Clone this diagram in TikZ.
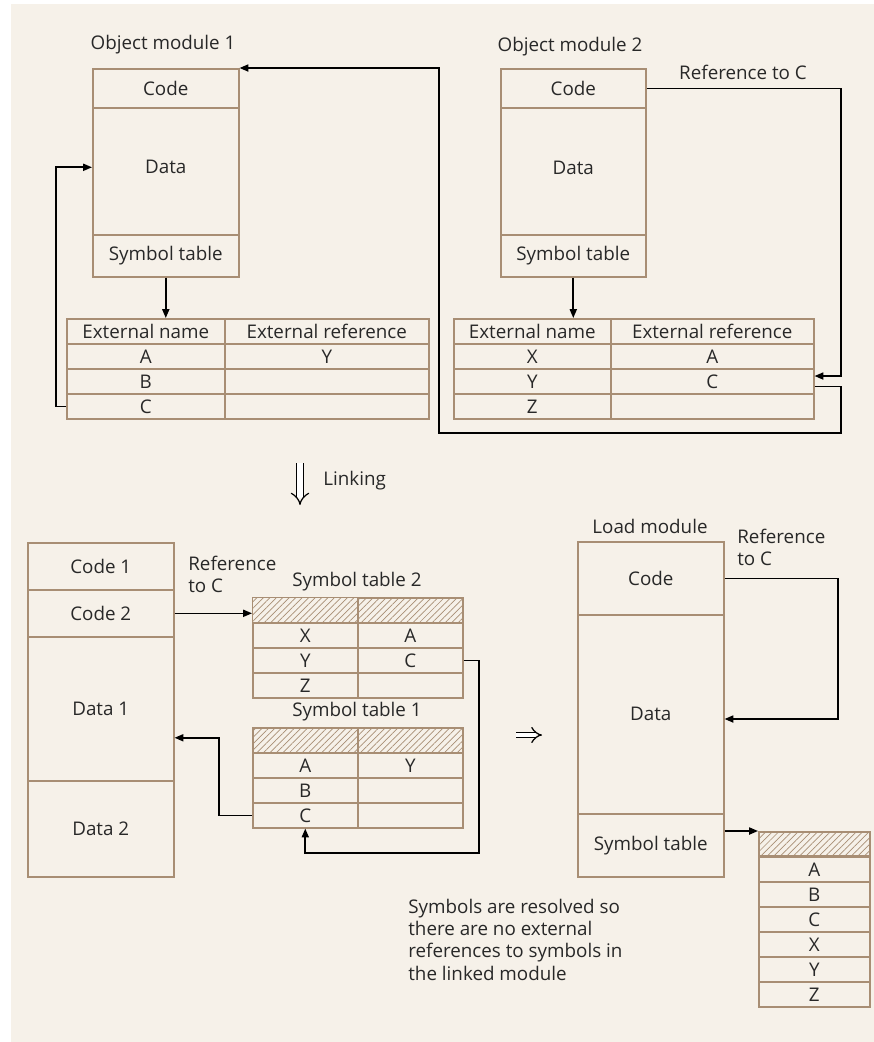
\documentclass[tikz,border=0pt]{standalone}
\usepackage{fontspec}
\setmainfont{Open Sans}
\usetikzlibrary{arrows.meta,positioning,calc,patterns.meta}
\definecolor{paper}{RGB}{246,241,233}
\definecolor{boxline}{RGB}{168,142,116}
\definecolor{ink}{RGB}{40,40,40}

\begin{document}
\begin{tikzpicture}[x=0.02cm, y=-0.02cm,
    >={Triangle[length=5pt, width=4pt]},
    font=\fontsize{10.7}{12.6}\selectfont,
    cell/.style={draw=boxline, line width=0.9pt, inner sep=0pt, anchor=north west, text=ink},
    hatch/.style={cell, pattern={Lines[angle=45, distance=2.6pt, line width=0.4pt]}, pattern color=boxline},
    link/.style={draw=black, line width=0.9pt},
    lbl/.style={text=ink, inner sep=0pt}]
    % --- Paper ---
    \useasboundingbox (0,0) rectangle (873,1042);
    \fill[paper] (11,4) rectangle (874,1043);
    % --- Object module 1 ---
    \node[lbl] (m1title) at (163,45) {Object module 1};
    \node[cell, minimum width=2.92cm, minimum height=0.78cm] (m1code) at (92,68) {Code};
    \node[cell, minimum width=2.92cm, minimum height=2.54cm] (m1data) at (92,107) {\raisebox{0.16cm}{Data}};
    \node[cell, minimum width=2.92cm, minimum height=0.84cm] (m1sym) at (92,234) {Symbol table};
    % --- Object module 2 ---
    \node[lbl] (m2title) at (570,47) {Object module 2};
    \node[cell, minimum width=2.9cm, minimum height=0.78cm] (m2code) at (500,68) {Code};
    \node[cell, minimum width=2.9cm, minimum height=2.54cm] (m2data) at (500,107) {\raisebox{0.12cm}{Data}};
    \node[cell, minimum width=2.9cm, minimum height=0.84cm] (m2sym) at (500,234) {Symbol table};
    \node[lbl] (m2ref) at (743,72) {Reference to C};
    % --- External name tables ---
    \node[cell, minimum width=3.16cm, minimum height=0.5cm] (t1name) at (66,318) {External name};
    \node[cell, minimum width=4.08cm, minimum height=0.5cm] (t1ref) at (224,318) {External reference};
    \foreach \n/\r [count=\i] in {A/Y,B/,C/} {
      \node[cell, minimum width=3.16cm, minimum height=0.5cm] (t1n\i) at (66,{318+25*\i}) {\n};
      \node[cell, minimum width=4.08cm, minimum height=0.5cm] (t1r\i) at (224,{318+25*\i}) {\r};
    }
    \node[cell, minimum width=3.14cm, minimum height=0.5cm] (t2name) at (453,318) {External name};
    \node[cell, minimum width=4.06cm, minimum height=0.5cm] (t2ref) at (610,318) {External reference};
    \foreach \n/\r [count=\i] in {X/A,Y/C,Z/} {
      \node[cell, minimum width=3.14cm, minimum height=0.5cm] (t2n\i) at (453,{318+25*\i}) {\n};
      \node[cell, minimum width=4.06cm, minimum height=0.5cm] (t2r\i) at (610,{318+25*\i}) {\r};
    }
    % --- Links between the object modules ---
    \coordinate (rbend) at (841,0);
    \coordinate (loopbr) at (841,433);
    \coordinate (loopbl) at (439,433);
    \draw[link,->] (m1sym.south) -- (m1sym.south |- t1name.north);
    \draw[link,->] (m2sym.south) -- (m2sym.south |- t2name.north);
    \draw[link,->] (t1n3.west) -- ++(-10,0) |- ([yshift=0.08cm]m1data.west);
    \draw[link,->] (m2code.east) -- (m2code.east -| rbend) |- ([yshift=3pt]t2r2.east);
    \draw[link,->] ([yshift=-3pt]t2r2.east) -| (loopbr) -- (loopbl) |- (m1code.north east);
    % --- Linking ---
    \coordinate (linktop) at (300,463);
    \coordinate (linkbot) at (300,505);
    \draw[double, double distance=3pt, line width=0.7pt, -{Implies}] (linktop) -- (linkbot);
    \node[lbl, anchor=west] (linklbl) at (323,481) {Linking};
    % --- Linked program ---
    \node[cell, minimum width=2.92cm, minimum height=0.94cm] (bc1) at (27,542) {Code 1};
    \node[cell, minimum width=2.92cm, minimum height=0.94cm] (bc2) at (27,589) {Code 2};
    \node[cell, minimum width=2.92cm, minimum height=2.88cm] (bd1) at (27,636) {Data 1};
    \node[cell, minimum width=2.92cm, minimum height=1.92cm] (bd2) at (27,780) {Data 2};
    \node[lbl, anchor=north west, align=left] (bref) at (188,556) {Reference\\to C};
    % symbol table 2
    \node[lbl] (st2title) at (357,582) {Symbol table 2};
    \node[hatch, minimum width=2.1cm, minimum height=0.5cm] (st2h1) at (252,597) {};
    \node[hatch, minimum width=2.1cm, minimum height=0.5cm] (st2h2) at (357,597) {};
    \foreach \n/\r [count=\i] in {X/A,Y/C,Z/} {
      \node[cell, minimum width=2.1cm, minimum height=0.5cm] (st2n\i) at (252,{597+25*\i}) {\n};
      \node[cell, minimum width=2.1cm, minimum height=0.5cm] (st2r\i) at (357,{597+25*\i}) {\r};
    }
    % symbol table 1
    \node[lbl] (st1title) at (357,712) {Symbol table 1};
    \node[hatch, minimum width=2.1cm, minimum height=0.5cm] (st1h1) at (252,727) {};
    \node[hatch, minimum width=2.1cm, minimum height=0.5cm] (st1h2) at (357,727) {};
    \foreach \n/\r [count=\i] in {A/Y,B/,C/} {
      \node[cell, minimum width=2.1cm, minimum height=0.5cm] (st1n\i) at (252,{727+25*\i}) {\n};
      \node[cell, minimum width=2.1cm, minimum height=0.5cm] (st1r\i) at (357,{727+25*\i}) {\r};
    }
    \coordinate (stloop) at (479,853);
    \draw[link,->] (bc2.east) -- (bc2.east -| st2h1.west);
    \draw[link,->] (st2r2.east) -| (stloop) -| (st1n3.south);
    \draw[link,->] (st1n3.west) -- ++(-33,0) |- ([yshift=-0.58cm]bd1.east);
    % --- Resolves to ---
    \coordinate (impl) at (516,735);
    \coordinate (impr) at (542,735);
    \draw[double, double distance=2.5pt, line width=0.7pt, -{Implies}] (impl) -- (impr);
    % --- Load module ---
    \node[lbl] (ltitle) at (650,526) {Load module};
    \node[cell, minimum width=2.92cm, minimum height=1.46cm] (lcode) at (577,541) {Code};
    \node[cell, minimum width=2.92cm, minimum height=3.98cm] (ldata) at (577,614) {Data};
    \node[cell, minimum width=2.92cm, minimum height=1.26cm] (lsym) at (577,813) {Symbol table};
    \node[lbl, anchor=north west, align=left] (lref) at (737,529) {Reference\\to C};
    \node[hatch, minimum width=2.22cm, minimum height=0.48cm] (finh) at (758,831) {};
    \foreach \s [count=\i] in {A,B,C,X,Y,Z} {
      \node[cell, minimum width=2.22cm, minimum height=0.5cm] (fin\i) at (758,{831+25*\i}) {\s};
    }
    \coordinate (lbend) at (838,719);
    \draw[link,->] (lcode.east) -| (lbend) -- (lbend -| ldata.east);
    \draw[link,->] (finh.north west -| lsym.east) -- (finh.north west);
    % --- Note ---
    \node[lbl, anchor=north west, align=left] (note) at (408,899)
      {Symbols are resolved so\\there are no external\\references to symbols in\\the linked module};
\end{tikzpicture}
\end{document}
